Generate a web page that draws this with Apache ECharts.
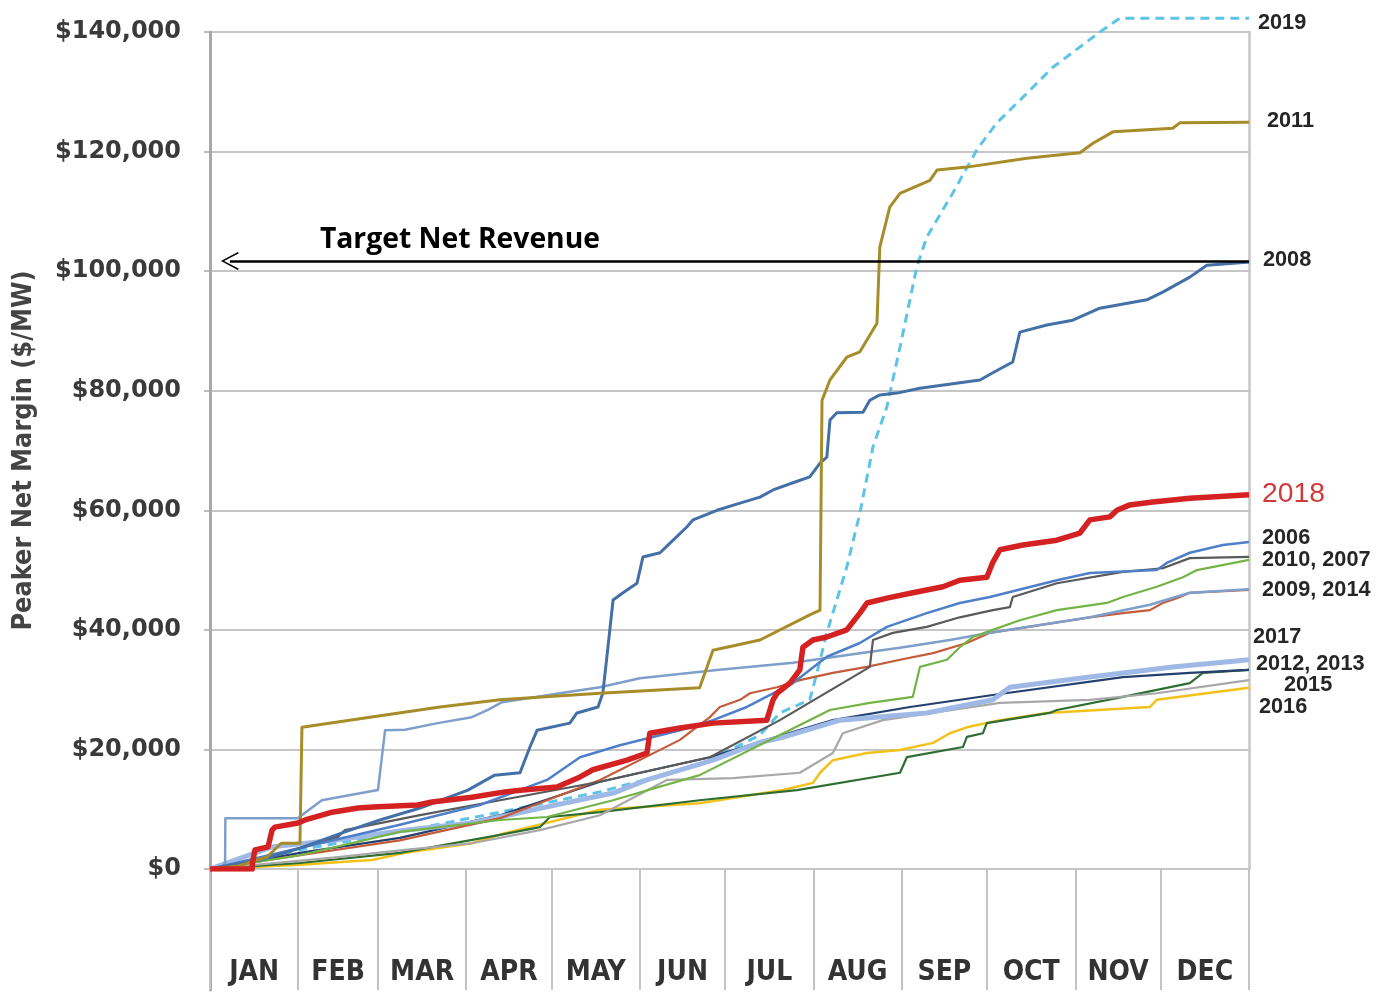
<!DOCTYPE html>
<html><head><meta charset="utf-8">
<script src="https://cdn.jsdelivr.net/npm/echarts@6/dist/echarts.min.js"></script>
<style>html,body{margin:0;padding:0;background:#fff}#c{width:1376px;height:994px}</style>
</head><body><div id="c"></div><script>
// ---------- DATA ----------
const months = ['JAN','FEB','MAR','APR','MAY','JUN','JUL','AUG','SEP','OCT','NOV','DEC'];
const monthStarts = [0,31,59,90,120,151,181,212,243,273,304,334,365];
const yTicks = [0,20000,40000,60000,80000,100000,120000,140000];
const targetNetRevenue = 101700;
const targetText = 'Target Net Revenue';

// [day of year, cumulative $/MW]
const d2019 = [[0,0],[31.6,3200],[66.7,6200],[101.9,9500],[137,12900],[172,17400],[193.2,22400],[200.2,26100],[210.7,28300],[213.2,32800],[216.7,39500],[223.7,50500],[228.3,59500],[232.9,70600],[237.8,77300],[242.4,87300],[248.3,100700],[251.8,105700],[261,113100],[269.4,120300],[276.4,124800],[285.6,129100],[296.1,134100],[312.6,140000],[319.6,142300],[365,142300]];
const d2011 = [[0,0],[10,500],[20,2000],[25,4300],[31.6,4300],[32.3,23700],[62.2,25800],[80.8,27100],[101.9,28300],[137,29400],[172,30300],[176.7,36600],[193.2,38300],[210.7,42500],[214.3,43300],[215,78400],[217.8,81800],[223.7,85600],[228.3,86500],[234.3,91300],[235.3,104000],[238.8,110700],[242.4,113000],[252.9,115200],[255.4,116900],[265.9,117400],[287,118900],[305.6,119800],[310.2,121400],[317.2,123300],[338.2,123900],[340.7,124800],[365,124900]];
const d2008 = [[0,0],[17.6,1500],[31.6,3500],[47.4,6200],[59.7,8200],[73.8,10200],[90.6,13200],[100,15700],[108.9,16100],[112.4,20400],[114.9,23200],[126.4,24400],[128.9,26100],[136.3,27100],[138,29400],[139.8,37100],[141.6,45000],[145.1,46200],[150,47800],[152.1,52200],[158.1,52900],[161.6,54500],[167.5,57200],[169.7,58400],[178.1,60000],[186.2,61200],[193.2,62200],[197.8,63400],[204.8,64600],[210.7,65600],[214.3,67900],[216.7,68900],[217.8,75100],[220.2,76300],[229.4,76400],[231.8,78400],[235.3,79300],[241.3,79600],[249.4,80400],[270.5,81800],[275,83000],[282,84800],[284.5,89800],[294,91000],[303.1,91800],[312.6,93800],[329.1,95200],[334.7,96500],[344.2,99000],[350.2,101000],[364.2,101500],[365,101500]];
const d2018 = [[0,0],[14.8,0],[14.9,1000],[15.8,3200],[20.4,3700],[21.8,6500],[22.8,7000],[30.9,7700],[33.4,8200],[39.3,9000],[42.9,9500],[52,10200],[59,10400],[73,10700],[78,11200],[92,12000],[103.6,12900],[110,13200],[121.9,13700],[130,15400],[134.5,16600],[146.5,18200],[153.5,19400],[154.5,22700],[165.1,23600],[176.7,24400],[195.6,24900],[197.8,28300],[199.2,29400],[203.7,31100],[207.2,33300],[208.3,37100],[211.8,38300],[216.7,38800],[223.7,40000],[228.3,42800],[230.8,44500],[237.8,45300],[246.9,46200],[257.5,47200],[263.4,48300],[272.9,48800],[275,51300],[277.5,53400],[285.6,54200],[297.5,55000],[305.6,56200],[309.1,58400],[316.1,58900],[318.6,60000],[323.1,60900],[331.2,61400],[344.2,62000],[365,62600]];
const d2006 = [[0,0],[31.6,3500],[66.7,7400],[94.8,10700],[118.4,14900],[130,18700],[144,20700],[165.1,23200],[176.7,24900],[188.6,27100],[204.8,31100],[216.7,35500],[228.3,37800],[237.8,40500],[251.8,42800],[263.4,44500],[274,45500],[297.5,48300],[309.1,49500],[332.6,50000],[336.1,51200],[344.2,52900],[355.8,54200],[365,54700]];
const d2007 = [[0,0],[17.6,1500],[45,5400],[47.4,6500],[73.8,9000],[101.9,11500],[137,14600],[160.5,17100],[175.6,18700],[200.2,24900],[228.3,32800],[231.8,33800],[232.9,38300],[239.9,39500],[251.8,40500],[263.4,42100],[275,43300],[281,43800],[282,45500],[297.5,47800],[320.7,49700],[334.7,50300],[344.2,52000],[365,52200]];
const d2010 = [[0,0],[31.6,2300],[66.7,6200],[101.9,8200],[118.4,8700],[141.6,11500],[172,15700],[200.2,22400],[217.8,26600],[231.8,27800],[246.9,28800],[249.4,33800],[258.9,35000],[263.4,37100],[268,38800],[275,40000],[284.5,41600],[297.5,43300],[315.1,44500],[320.7,45500],[332.6,47200],[341.8,48800],[346.7,50000],[365,51700]];
const d2009 = [[0,0],[31.6,2300],[66.7,4800],[101.9,8500],[137,14900],[165.1,21600],[175.6,25400],[179.1,27100],[186.2,28300],[189.7,29400],[199.2,30400],[207.2,31600],[218.8,32800],[230.8,33800],[242.4,35000],[254,36100],[265.9,37800],[274,39500],[309.1,42100],[320.7,42800],[330.2,43300],[334.7,44500],[339.7,45300],[344.2,46200],[365,46700]];
const d2014 = [[0,0],[4,0],[5.3,1000],[5.4,8500],[30.9,8500],[33.4,9400],[39.3,11500],[45,12000],[59,13200],[61.5,23200],[68.5,23300],[80,24400],[92,25400],[97.6,26600],[102.6,27900],[123,29400],[137,30400],[151,31900],[178.1,33300],[204.8,34500],[228.3,36100],[242.4,37000],[259.9,38300],[274,39500],[309.1,42100],[330.2,44200],[344.2,46200],[365,46800]];
const d2017 = [[0,0],[21.8,3700],[45,4900],[68.5,6500],[92,7700],[118.4,10400],[141.6,12700],[153.5,14900],[176.7,18200],[193.2,21200],[200.2,21900],[221.3,24900],[251.8,26100],[275,28300],[281,30400],[309.1,32100],[338.2,33800],[365,35000]];
const d2012 = [[0,0],[31.6,2700],[66.7,5200],[101.9,9000],[137,14600],[175.6,18700],[195.6,21600],[218.8,24900],[245.9,27100],[275,29100],[320.7,32100],[344.2,32800],[365,33300]];
const d2013 = [[0,0],[31.6,1000],[66.7,2700],[101.9,5700],[115.9,7000],[119.4,8700],[137,9500],[172,11500],[206.2,13200],[242.4,16100],[244.8,18700],[264.5,20400],[265.9,22100],[271.5,22700],[272.9,24400],[295,26100],[297.5,26600],[320.7,28800],[344.2,31100],[348.8,32800],[365,33300]];
const d2015 = [[0,0],[45,2000],[68.5,3200],[92,4300],[115.9,6500],[137,9000],[160.5,14900],[183.7,15200],[207.2,16100],[218.8,19400],[222.3,22700],[236.4,24900],[277.5,27800],[309.1,28300],[332.6,29400],[365,31600]];
const d2016 = [[0,0],[31.6,700],[56.9,1500],[68.5,2700],[92,4300],[103.6,6000],[137,9900],[172,11000],[201.3,13200],[211.8,14400],[214.3,16100],[218.8,18200],[230.8,19400],[242.4,19900],[254,21100],[259.9,22700],[265.9,23700],[277.5,24900],[294,26100],[330.2,27100],[332.6,28300],[365,30300]];

const yearLabels = ['2019','2011','2008','2018','2006','2010, 2007','2009, 2014','2017','2012, 2013','2015','2016'];
const yearLabelValues = [140000,125100,101900,62700,55400,51700,46700,38800,34300,30800,27100];

// ---------- STYLE ----------
const labelOffsets = [[9,-9],[18,0],[14,0],[13,0],[13,0],[13,0],[13,0],[4,0],[7,0],[35,0],[10,0]];
const seriesStyle = [
  {name:'2019', data:d2019, color:'#5ec4e6', width:3, dashed:true},
  {name:'2016', data:d2016, color:'#f2c21a', width:2.5},
  {name:'2013', data:d2013, color:'#2f6e32', width:2.2},
  {name:'2015', data:d2015, color:'#a8a8a8', width:2.2},
  {name:'2012', data:d2012, color:'#24406e', width:2.2},
  {name:'2017', data:d2017, color:'#9fb9e6', width:5},
  {name:'2009', data:d2009, color:'#c45c3c', width:2.2},
  {name:'2014', data:d2014, color:'#7e9fcb', width:2.5},
  {name:'2010', data:d2010, color:'#74b446', width:2.2},
  {name:'2007', data:d2007, color:'#5a5a5a', width:2.2},
  {name:'2006', data:d2006, color:'#4f7fc8', width:2.5},
  {name:'2008', data:d2008, color:'#4470a8', width:3},
  {name:'2011', data:d2011, color:'#a68d2a', width:3},
  {name:'2018', data:d2018, color:'#d42222', width:5.5}
];

// ---------- FONTS ----------
const ctx = document.createElement('canvas').getContext('2d');
function has(f){
  const s='JANMARwWiIl0123$,';
  ctx.font='40px monospace'; const a=ctx.measureText(s).width;
  ctx.font='40px "'+f+'", monospace'; const b=ctx.measureText(s).width;
  return Math.abs(a-b)>0.5;
}
function pick(list){ for(const f of list){ if(has(f)) return f; } return 'sans-serif'; }
function fit(text, fam, weight, target, maxSize){
  ctx.font = weight+' 100px "'+fam+'"';
  const w = ctx.measureText(text).width;
  return Math.min(maxSize, Math.round(100*target/w*10)/10);
}
const narrow = pick(['Liberation Sans Narrow','DejaVu Sans Condensed','Roboto Condensed','Liberation Sans']);
const wide = pick(['DejaVu Sans','Verdana','Liberation Sans']);
const sansB = pick(['Open Sans','Liberation Sans','DejaVu Sans']);
const arial = pick(['Liberation Sans','Arial','DejaVu Sans']);

const monthSize = fit('MAR', narrow, 'bold', 64, 32);
const titleSize = fit('Peaker Net Margin ($/MW)', narrow, 'bold', 360, 34);
const targetSize = fit(targetText, sansB, 'bold', 280, 30);
const yearSize = fit('2011', arial, 'bold', 47, 22);
const redSize = fit('2018', arial, 'normal', 63, 30);

const monthMids = months.map((m,i)=> (monthStarts[i]+monthStarts[i+1])/2);

const chevron = 'path://M10,0L20,16L18.6,17L10,3L1.4,17L0,16Z';

const chart = echarts.init(document.getElementById('c'), null, {renderer:'canvas'});

const series = seriesStyle.map(s => ({
  type:'line', name:s.name, data:s.data, xAxisIndex:0, yAxisIndex:0,
  showSymbol:false, symbol:'none', clip: !s.dashed,
  lineStyle:{color:s.color, width:s.width, type: s.dashed ? [9,6] : 'solid', join:'round'},
  emphasis:{disabled:true}, z:2
}));

series.push({
  type:'line', name:'annot', data:[], xAxisIndex:0, yAxisIndex:0, clip:false, z:5,
  markLine:{
    silent:true, symbol:[chevron,'none'], symbolSize:18,
    lineStyle:{color:'#000', width:2.5, type:'solid'},
    label:{show:false},
    data:[[{coord:[7, targetNetRevenue]},{coord:[365, targetNetRevenue]}]]
  },
  markPoint:{
    silent:true, symbol:'circle', symbolSize:0,
    data: yearLabels.map((t,i)=>({
      coord:[365, yearLabelValues[i]],
      label:{show:true, position:'right', distance:0, offset:labelOffsets[i], formatter:t,
        fontFamily: arial,
        fontWeight: t==='2018' ? 'normal' : 'bold',
        fontSize: t==='2018' ? redSize : yearSize,
        color: t==='2018' ? '#d03a3a' : '#262626'}
    })).concat([{
      coord:[38.6, 105200],
      label:{show:true, position:'right', distance:0, formatter:targetText,
        fontFamily: sansB, fontWeight:'bold', fontSize: targetSize, color:'#000'}
    }])
  }
});

chart.setOption({
  animation:false,
  backgroundColor:'#fff',
  grid:[
    {left:210, right:127, top:32, height:837},
    {left:210, right:127, top:869, height:121}
  ],
  xAxis:[
    {type:'value', gridIndex:0, min:0, max:365, show:false},
    {type:'value', gridIndex:1, min:0, max:365, position:'bottom',
     axisLine:{show:false}, splitLine:{show:false},
     axisTick:{show:true, customValues:monthStarts, inside:true, length:121,
       lineStyle:{color:'#c4c4c4', width:2}},
     axisLabel:{show:true, customValues:monthMids, inside:true, margin:3,
       formatter:(v)=>{ const i=monthMids.indexOf(v); return i>=0?months[i]:''; },
       fontFamily:narrow, fontWeight:'bold', fontSize:monthSize, color:'#333'}}
  ],
  yAxis:[
    {type:'value', gridIndex:0, min:0, max:140000, interval:20000,
     name:'Peaker Net Margin ($/MW)', nameLocation:'middle', nameRotate:90, nameGap:172,
     nameTextStyle:{fontFamily:narrow, fontWeight:'bold', fontSize:titleSize, color:'#444'},
     axisLine:{show:true, lineStyle:{color:'#a8a8a8', width:3}},
     axisTick:{show:true, length:6, lineStyle:{color:'#a8a8a8', width:1.5}},
     splitLine:{show:true, lineStyle:{color:'#c6c6c6', width:2}},
     axisLabel:{margin:29, formatter:(v)=>'$'+v.toLocaleString('en-US'),
       fontFamily:wide, fontWeight:'bold', fontSize:24, color:'#3a3a3a'}},
    {type:'value', gridIndex:0, min:0, max:140000, position:'right',
     axisLine:{show:true, lineStyle:{color:'#c6c6c6', width:2.5}},
     axisTick:{show:false}, axisLabel:{show:false}, splitLine:{show:false}},
    {type:'value', gridIndex:1, min:0, max:1, position:'left',
     axisLine:{show:true, lineStyle:{color:'#a8a8a8', width:3}},
     axisTick:{show:false}, axisLabel:{show:false}, splitLine:{show:false}}
  ],
  series: series
});
</script></body></html>
